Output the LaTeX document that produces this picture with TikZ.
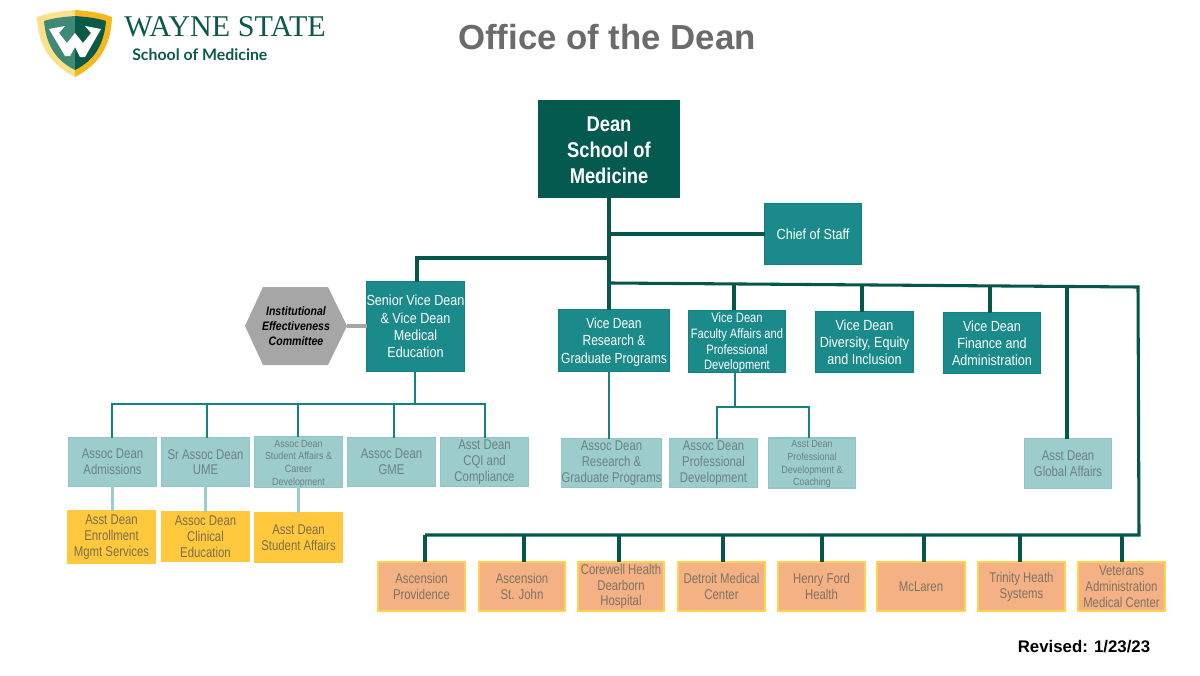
\documentclass[tikz,border=0pt]{standalone}
\usepackage{fontspec}
\setmainfont{Liberation Sans}
\newfontfamily\cond[FakeStretch=0.86]{Liberation Sans}
\newfontfamily\condn[FakeStretch=0.805]{Liberation Sans}
\newfontfamily\condf[FakeStretch=0.82]{Liberation Sans}
\newfontfamily\logoserif{Liberation Serif}
\newfontfamily\logosans{Lato}
\definecolor{deandark}{HTML}{045A4E}
\definecolor{linedark}{HTML}{04574A}
\definecolor{tealbox}{HTML}{1A8A8A}
\definecolor{tealedge}{HTML}{148080}
\definecolor{lightbox}{HTML}{9CCCCC}
\definecolor{lightedge}{HTML}{8FC6C6}
\definecolor{lighttext}{HTML}{6D8284}
\definecolor{yellowbox}{HTML}{FFC83D}
\definecolor{yellowtext}{HTML}{7C6F4B}
\definecolor{orangebox}{HTML}{F4B183}
\definecolor{orangeedge}{HTML}{FFD34D}
\definecolor{orangetext}{HTML}{7F7266}
\definecolor{hexgray}{HTML}{A6A6A6}
\definecolor{titlegray}{HTML}{6B6B6B}
\definecolor{logogreen}{HTML}{0B5A47}
\definecolor{logolight}{HTML}{3F8A76}
\definecolor{goldlight}{HTML}{FDE08A}
\definecolor{gold}{HTML}{F5B81C}
\newcommand{\fs}[2]{\fontsize{#1}{#2}\selectfont}
\newcommand{\bx}[7][]{%
  \node[#2,minimum width=(#5-#3-1.5)*0.75pt,minimum height=(#6-#4-1.5)*0.75pt,#1] (#7) at ({(#3+#5)/2},{(#4+#6)/2})}
\tikzset{
  basebox/.style={draw,line width=1.1pt,inner sep=0pt,outer sep=0pt,align=center},
  deanbox/.style={basebox,fill=deandark,draw=deandark,text=white,font=\cond\bfseries\fs{16}{19.5}},
  tealnode/.style={basebox,fill=tealbox,draw=tealedge,text=white,font=\cond\fs{11}{12.9}},
  lightnode/.style={basebox,fill=lightbox,draw=lightedge,text=lighttext,font=\condn\fs{10.6}{11.8}},
  smalllight/.style={lightnode,font=\cond\fs{7.8}{9.5}},
  yellownode/.style={basebox,fill=yellowbox,draw=yellowbox,text=yellowtext,font=\condn\fs{10.6}{11.8}},
  orangenode/.style={basebox,fill=orangebox,draw=orangeedge,line width=1.3pt,text=orangetext,font=\condn\fs{10.6}{11.8}},
  darkline/.style={draw=linedark,line width=2.3pt},
  midline/.style={draw=tealedge!80!tealbox,line width=1.8pt},
  paleline/.style={draw=lightbox,line width=1.8pt},
  greyline/.style={draw=hexgray,line width=2.6pt},
}
\begin{document}
\begin{tikzpicture}[x=0.75pt,y=-0.75pt]
\useasboundingbox (0,0) rectangle (1200,675);
% logo
\fill[goldlight] (75,10) .. controls (60,11) and (48,13) .. (37,17) .. controls (38,45) and (50,64) .. (75,77) -- cycle;
\fill[gold] (75,10) .. controls (90,11) and (102,13) .. (112,17) .. controls (111,45) and (100,64) .. (75,77) -- cycle;
\fill[logolight] (75,16) .. controls (63,17) and (53,18) .. (44,21) .. controls (46,44) and (55,60) .. (75,70) -- cycle;
\fill[logogreen] (75,16) .. controls (87,17) and (97,18) .. (106,21) .. controls (104,44) and (95,60) .. (75,70) -- cycle;
\fill[white] (49,29) -- (65,26) -- (59,33) -- (67,43) -- (75,33) -- (83,43) -- (91,33) -- (85,26) -- (101,29) -- (85,57) -- (80,57) -- (75,47) -- (70,56) -- (65,56) -- cycle;
\node[inner sep=0pt,text=logogreen,font=\logoserif\fs{22.6}{26},anchor=west] (wayne) at (124,27) {WAYNE STATE};
\node[inner sep=0pt,text=logogreen,font=\logosans\bfseries\fs{11.9}{13},anchor=west] (som) at (132,55) {School of Medicine};
% title
\node[inner sep=0pt,text=titlegray,font=\bfseries\fs{26.1}{29}] (title) at (607,37) {Office of the Dean};
% level 0-1
\bx{deanbox}{538}{100}{680}{198}{dean} {\rule{0pt}{13pt}Dean\\School of\\Medicine};
\bx{tealnode}{764}{203}{862}{265}{chief} {Chief of Staff};
\bx{tealnode}{366}{281}{465}{372}{svd} {Senior Vice Dean\\\& Vice Dean\\Medical\\Education};
\bx[font=\condf\fs{11}{13.1}]{tealnode}{558}{309}{670}{372}{vdr} {\rule{0pt}{10pt}Vice Dean\\Research \&\\Graduate Programs};
\bx[font=\condf\fs{10.2}{11.9}]{tealnode}{688}{310}{786}{373}{vdf} {\rule{0pt}{9pt}Vice Dean\\Faculty Affairs and\\Professional\\Development};
\bx{tealnode}{815}{311}{914}{373}{vdd} {Vice Dean\\Diversity, Equity\\and Inclusion};
\bx{tealnode}{943}{312}{1041}{374}{vdn} {Vice Dean\\Finance and\\Administration};
% hexagon
\fill[hexgray] (245,326) -- (263,287) -- (328,287) -- (347,326) -- (328,365) -- (263,365) -- cycle;
\node[inner sep=0pt,align=center,text=black,font=\cond\bfseries\itshape\fs{9.2}{11.2}] (iec) at (296,326) {Institutional\\Effectiveness\\Committee};
\coordinate (hexr) at (347,326);
% level 2 left
\bx{lightnode}{68}{437}{157}{487}{adm} {Assoc Dean\\Admissions};
\bx{lightnode}{161}{437}{250}{487}{ume} {Sr Assoc Dean\\UME};
\bx{smalllight}{254}{437}{343}{487}{stu} {\rule{0pt}{8pt}Assoc Dean\\Student Affairs \&\\Career\\Development};
\bx{lightnode}{347}{437}{436}{487}{gme} {Assoc Dean\\GME};
\bx{lightnode}{440}{437}{529}{487}{cqi} {Asst Dean\\CQI and\\Compliance};
% level 2 middle
\bx{lightnode}{561}{438}{662}{488}{arg} {Assoc Dean\\Research \&\\Graduate Programs};
\bx{lightnode}{669}{438}{758}{488}{apd} {Assoc Dean\\Professional\\Development};
\bx{smalllight}{768}{438}{856}{488}{apc} {\rule{0pt}{7.5pt}Asst Dean\\Professional\\Development \&\\Coaching};
\bx{lightnode}{1024}{438}{1112}{489}{glo} {Asst Dean\\Global Affairs};
% yellow
\bx{yellownode}{67}{510}{156}{564}{enr} {Asst Dean\\Enrollment\\Mgmt Services};
\bx{yellownode}{161}{511}{250}{562}{cli} {Assoc Dean\\Clinical\\Education};
\bx{yellownode}{254}{512}{343}{563}{asa} {Asst Dean\\Student Affairs};
% orange
\bx{orangenode}{377}{561}{466}{612}{h1} {Ascension\\Providence};
\bx{orangenode}{478}{561}{566}{612}{h2} {Ascension\\St. John};
\bx{orangenode}{577}{561}{665}{612}{h3} {Corewell Health\\Dearborn\\Hospital};
\bx{orangenode}{677}{561}{766}{612}{h4} {Detroit Medical\\Center};
\bx{orangenode}{777}{561}{866}{612}{h5} {Henry Ford\\Health};
\bx{orangenode}{876}{561}{966}{612}{h6} {McLaren};
\bx{orangenode}{977}{561}{1066}{612}{h7} {Trinity Heath\\Systems};
\bx{orangenode}{1077}{561}{1166}{612}{h8} {Veterans\\Administration\\Medical Center};
\node[inner sep=0pt,text=black,font=\bfseries\fs{12.6}{14}] (rev) at (1084,647) {Revised: 1/23/23};
% junctions
\coordinate (up) at (609,258);
\coordinate (upr) at (417,258);
\coordinate (rs) at (611,283);
\coordinate (re) at (1138,287);
\coordinate (lowr) at (1139,535);
\coordinate (lowl) at (425,535);
% dark connectors
\draw[darkline] (dean.south) -- (dean.south |- vdr.north);
\draw[darkline] (dean.south |- chief.west) -- (chief.west);
\draw[darkline] (up) -- (upr) -- (upr |- svd.north);
\draw[darkline,line join=miter] (rs) -- (re) -- (lowr) -- (lowl);
\foreach \x/\t/\n in {734/284/vdf,862/285/vdd,990/286/vdn,1067/287/glo}{
  \coordinate (t\n) at (\x,\t);
  \draw[darkline] (t\n) -- (t\n |- \n.north);
}
\foreach \x/\n in {425/h1,524/h2,619/h3,723/h4,822/h5,924/h6,1020/h7,1122/h8}{
  \coordinate (d\n) at (\x,535);
  \draw[darkline] (d\n) -- (d\n |- \n.north);
}
% mid connectors
\coordinate (mbus) at (415,404);
\coordinate (fbus) at (735,407);
\draw[midline] (svd.south -| mbus) -- (mbus);
\foreach \x/\n in {112/adm,207/ume,298/stu,394/gme,485/cqi}{
  \coordinate (m\n) at (\x,404);
  \draw[midline] (m\n) -- (m\n |- \n.north);
}
\draw[midline,line cap=rect] (madm) -- (mcqi);
\draw[midline] (dean.south |- vdr.south) -- (dean.south |- arg.north);
\draw[midline] (vdf.south -| fbus) -- (fbus);
\coordinate (fl) at (717,407);
\coordinate (fr) at (809,407);
\draw[midline,line cap=rect] (fl) -- (fr);
\draw[midline] (fl) -- (fl |- apd.north);
\draw[midline] (fr) -- (fr |- apc.north);
% pale connectors
\draw[paleline] (adm.south) -- (adm.south |- enr.north);
\draw[paleline] (ume.south) -- (ume.south |- cli.north);
\draw[paleline] (stu.south) -- (stu.south |- asa.north);
\draw[greyline] (hexr) -- (svd.west |- hexr);
\end{tikzpicture}
\end{document}
